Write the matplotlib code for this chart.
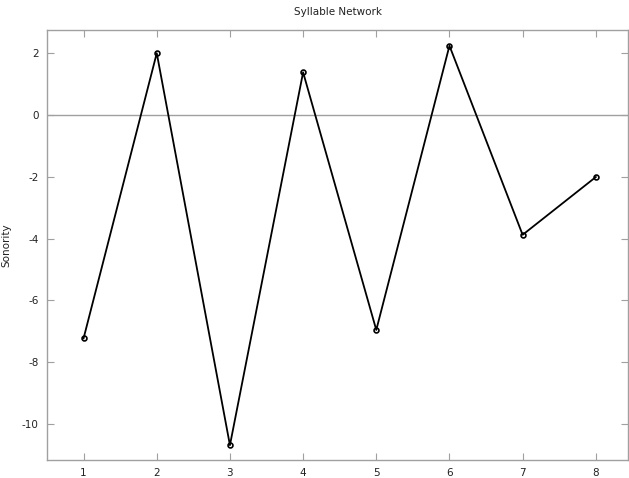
import matplotlib
matplotlib.use("Agg")
import matplotlib.pyplot as plt

positions = [1, 2, 3, 4, 5, 6, 7, 8]
sonority = [-7.23, 2.0, -10.69, 1.38, -6.96, 2.24, -3.88, -2.01]
xticks = [1, 2, 3, 4, 5, 6, 7, 8]
yticks = [2, 0, -2, -4, -6, -8, -10]

fig = plt.figure(figsize=(6.29, 4.78), dpi=100)
ax = fig.add_axes([47/629, 18/478, 581/629, 430/478])
gray = "#a0a0a0"
ax.axhline(0, color=gray, lw=1.0, zorder=1)
ax.plot(positions, sonority, color="black", lw=1.3, marker="o", markersize=3.5,
        markerfacecolor="none", markeredgecolor="black", markeredgewidth=1.2, zorder=3)
ax.set_xlim(0.5, 8.44)
ax.set_ylim(-11.17, 2.75)
ax.set_xticks(xticks)
ax.set_yticks(yticks)
ax.set_yticklabels([str(v) for v in yticks])
ax.tick_params(direction="in", length=5, color=gray, labelsize=7.5, top=True, right=True,
               labelcolor="#222222", pad=6)
for s in ax.spines.values():
    s.set_color(gray)
    s.set_linewidth(1.0)
ax.set_ylabel("Sonority", fontsize=7.5, color="#222222")
ax.yaxis.set_label_coords(-0.062, 0.5)
ax.set_title("Syllable Network", fontsize=7.5, color="#222222", pad=11)
fig.savefig("out.png", dpi=100)
